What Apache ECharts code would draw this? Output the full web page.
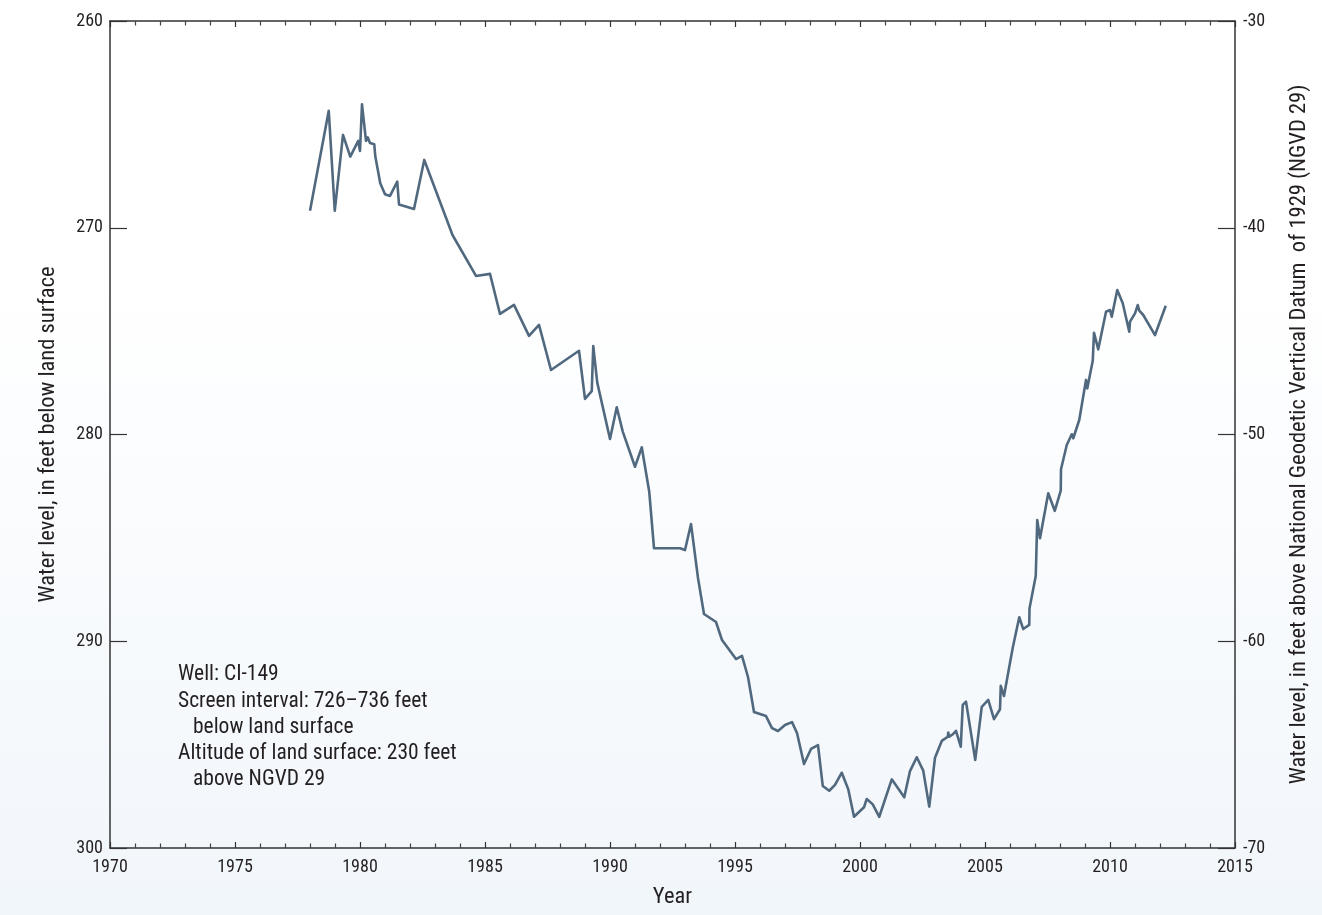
<!DOCTYPE html>
<html>
<head>
<meta charset="utf-8">
<script src="https://cdn.jsdelivr.net/npm/echarts@6/dist/echarts.min.js"></script>
<style>
html,body{margin:0;padding:0;background:#fff;}
#chart{width:1322px;height:915px;}
</style>
</head>
<body>
<div id="chart"></div>
<script>
// Decimal years of each measurement
const years = [
  1978.00, 1978.75, 1978.99, 1979.32, 1979.61, 1979.93, 1980.00, 1980.08, 1980.24, 1980.31,
  1980.40, 1980.57, 1980.61, 1980.81, 1981.00, 1981.20, 1981.49, 1981.56, 1982.16, 1982.57,
  1983.70, 1984.64, 1985.20, 1985.60, 1986.16, 1986.76, 1987.16, 1987.64, 1988.76, 1989.00,
  1989.27, 1989.33, 1989.49, 1990.00, 1990.27, 1990.51, 1991.00, 1991.27, 1991.57, 1991.76,
  1992.80, 1993.00, 1993.24, 1993.52, 1993.76, 1994.24, 1994.48, 1995.04, 1995.28, 1995.52,
  1995.76, 1996.24, 1996.48, 1996.72, 1997.00, 1997.28, 1997.48, 1997.76, 1998.04, 1998.32,
  1998.51, 1998.77, 1999.00, 1999.27, 1999.53, 1999.76, 2000.16, 2000.27, 2000.51, 2000.77,
  2001.27, 2001.77, 2002.00, 2002.27, 2002.53, 2002.77, 2003.00, 2003.27, 2003.51, 2003.53,
  2003.57, 2003.71, 2003.84, 2004.03, 2004.11, 2004.24, 2004.61, 2004.87, 2005.13, 2005.36,
  2005.60, 2005.63, 2005.76, 2006.00, 2006.11, 2006.37, 2006.53, 2006.77, 2006.78, 2007.03,
  2007.09, 2007.20, 2007.53, 2007.79, 2008.03, 2008.04, 2008.27, 2008.47, 2008.53, 2008.77,
  2009.04, 2009.09, 2009.31, 2009.36, 2009.53, 2009.84, 2010.00, 2010.07, 2010.29, 2010.51,
  2010.77, 2010.80, 2011.00, 2011.11, 2011.17, 2011.33, 2011.80, 2012.23
];
// Water level, in feet below land surface
const levels = [
  269.18, 264.34, 269.18, 265.51, 266.56, 265.80, 266.29, 264.03, 265.80, 265.63,
  265.90, 265.96, 266.53, 267.85, 268.38, 268.46, 267.77, 268.87, 269.09, 266.72,
  270.35, 272.33, 272.23, 274.17, 273.73, 275.23, 274.70, 276.88, 275.95, 278.28,
  277.90, 275.72, 277.49, 280.22, 278.68, 279.86, 281.56, 280.62, 282.77, 285.50,
  285.50, 285.59, 284.33, 286.94, 288.68, 289.07, 289.94, 290.86, 290.71, 291.73,
  293.42, 293.62, 294.20, 294.34, 294.05, 293.91, 294.44, 295.94, 295.21, 295.02,
  297.00, 297.23, 296.95, 296.36, 297.16, 298.49, 298.03, 297.63, 297.89, 298.49,
  296.68, 297.55, 296.28, 295.61, 296.26, 298.00, 295.63, 294.82, 294.62, 294.42,
  294.62, 294.50, 294.33, 295.10, 293.08, 292.92, 295.74, 293.17, 292.84, 293.77,
  293.29, 292.16, 292.65, 291.04, 290.31, 288.84, 289.41, 289.21, 288.41, 286.84,
  284.14, 285.02, 282.84, 283.69, 282.72, 281.68, 280.51, 279.99, 280.18, 279.30,
  277.36, 277.77, 276.43, 275.08, 275.88, 274.06, 273.98, 274.30, 273.01, 273.65,
  275.03, 274.54, 274.14, 273.74, 274.01, 274.22, 275.19, 273.77
];
const noteLines = [
  'Well: CI-149',
  'Screen interval: 726\u2013736 feet',
  '  below land surface',
  'Altitude of land surface: 230 feet',
  '  above NGVD 29'
];
const xTitle = 'Year';
const yLeftTitle = 'Water level, in feet below land surface';
const yRightTitle = 'Water level, in feet above National Geodetic Vertical Datum  of 1929 (NGVD 29)';

const FONT = "'Liberation Sans Narrow', 'Roboto Condensed', 'DejaVu Sans Condensed', Roboto, sans-serif";
const TXT = '#231f20';
const AX = '#333333';
const BIG = 21.5;
const TITLE = 22.5;

const chart = echarts.init(document.getElementById('chart'), null, {renderer: 'canvas'});
const data = years.map((y, i) => [y, levels[i]]);

const xCommon = {
  type: 'value', min: 1970, max: 2015, interval: 5,
  axisLine: {show: true, lineStyle: {color: AX, width: 1.5}},
  axisTick: {show: true, inside: true, length: 6, lineStyle: {color: AX, width: 1.2}},
  minorTick: {show: true, splitNumber: 5, length: 4.5, lineStyle: {color: '#444', width: 1.2}},
  splitLine: {show: false}, minorSplitLine: {show: false}
};

chart.setOption({
  animation: false,
  backgroundColor: new echarts.graphic.LinearGradient(0, 0, 0, 1, [
    {offset: 0, color: '#ffffff'},
    {offset: 0.3, color: '#ffffff'},
    {offset: 1, color: '#f1f6fb'}
  ]),
  grid: {left: 110, right: 87, top: 21, bottom: 67, containLabel: false},
  xAxis: [
    Object.assign({}, xCommon, {
      position: 'bottom',
      name: xTitle, nameLocation: 'middle', nameGap: 38,
      nameTextStyle: {fontFamily: FONT, fontSize: TITLE, color: TXT},
      axisLabel: {show: true, fontFamily: FONT, fontSize: 18, color: TXT, margin: 10,
        formatter: v => String(v)}
    }),
    Object.assign({}, xCommon, {
      position: 'top',
      axisLabel: {show: false}
    })
  ],
  yAxis: [
    {
      type: 'value', min: 260, max: 300, interval: 10, inverse: true, position: 'left',
      name: yLeftTitle, nameLocation: 'middle', nameGap: 50,
      nameTextStyle: {fontFamily: FONT, fontSize: TITLE, color: TXT},
      axisLine: {show: true, lineStyle: {color: AX, width: 1.5}},
      axisTick: {show: true, inside: true, length: 17, lineStyle: {color: AX, width: 1.2}},
      axisLabel: {fontFamily: FONT, fontSize: 18, color: TXT, margin: 7},
      splitLine: {show: false}
    },
    {
      type: 'value', min: -70, max: -30, interval: 10, position: 'right',
      name: yRightTitle, nameLocation: 'middle', nameGap: 53,
      nameTextStyle: {fontFamily: FONT, fontSize: TITLE, color: TXT},
      axisLine: {show: true, lineStyle: {color: AX, width: 1.5}},
      axisTick: {show: true, inside: true, length: 17, lineStyle: {color: AX, width: 1.2}},
      axisLabel: {fontFamily: FONT, fontSize: 18, color: TXT, margin: 8},
      splitLine: {show: false}
    }
  ],
  graphic: noteLines.map((t, i) => {
    const indented = /^\s/.test(t);
    return {
      type: 'text', left: indented ? 193 : 178, top: 664 + i * 26.2, silent: true,
      style: {text: t.trim(), font: BIG + 'px ' + FONT, fill: TXT}
    };
  }),
  series: [{
    type: 'line', xAxisIndex: 0, yAxisIndex: 0, data: data,
    showSymbol: false, symbol: 'none',
    lineStyle: {color: '#51697f', width: 2.6, join: 'round'},
    z: 5
  }]
});
</script>
</body>
</html>
